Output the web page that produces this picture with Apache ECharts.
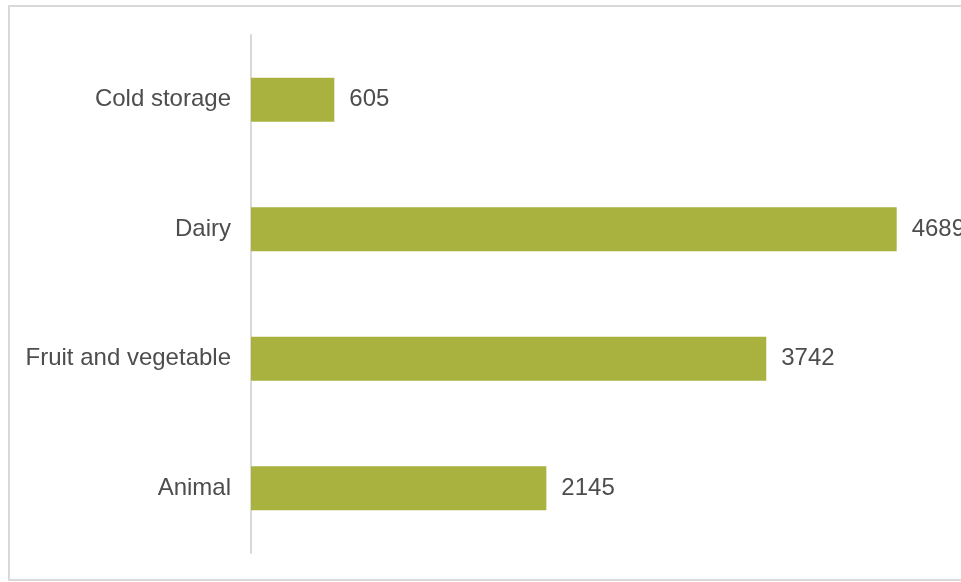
<!DOCTYPE html>
<html>
<head>
<meta charset="utf-8">
<script src="https://cdn.jsdelivr.net/npm/echarts@6/dist/echarts.min.js"></script>
<style>
  html, body { margin: 0; padding: 0; background: #fff; }
  #container { width: 961px; height: 582px; }
</style>
</head>
<body>
<div id="container"></div>
<script>
// categories listed bottom to top (category axis starts at the bottom)
var categories = ['Animal', 'Fruit and vegetable', 'Dairy', 'Cold storage'];
var values = [2145, 3742, 4689, 605];

var dom = document.getElementById('container');
var myChart = echarts.init(dom);

var option = {
    animation: false,
    backgroundColor: '#fff',
    graphic: [{
        type: 'rect',
        shape: { x: 9, y: 6, width: 980, height: 574 },
        style: { fill: 'none', stroke: '#d9d9d9', lineWidth: 2 },
        silent: true
    }],
    grid: {
        left: 251,
        top: 35,
        width: 688.5,
        height: 518,
        containLabel: false
    },
    xAxis: {
        type: 'value',
        min: 0,
        max: 5000,
        show: false
    },
    yAxis: {
        type: 'category',
        data: categories,
        axisLine: { show: true, lineStyle: { color: '#d9d9d9', width: 2 } },
        axisTick: { show: false },
        axisLabel: {
            margin: 20,
            color: '#4d4d4d',
            fontSize: 24,
            padding: [3, 0, 0, 0],
            fontFamily: 'Liberation Sans, Arial, sans-serif'
        }
    },
    series: [{
        type: 'bar',
        data: values,
        barWidth: 44,
        itemStyle: { color: '#a9b23f' },
        label: {
            show: true,
            position: 'right',
            distance: 15,
            color: '#4d4d4d',
            fontSize: 24,
            padding: [3, 0, 0, 0],
            fontFamily: 'Liberation Sans, Arial, sans-serif'
        }
    }]
};

myChart.setOption(option);
</script>
</body>
</html>
